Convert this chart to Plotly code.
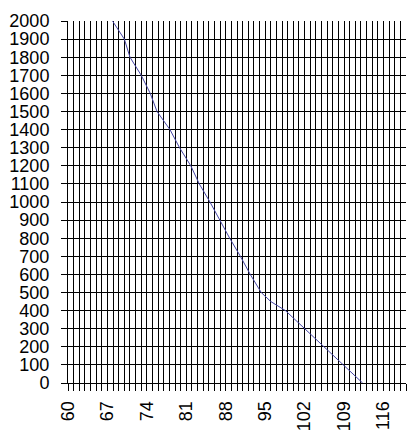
import plotly.graph_objects as go

# Curve readings: load (y) against x position
x_vals = [67.9, 70.0, 71.0, 73.0, 74.6, 75.8, 78.1, 79.8, 81.8, 83.3, 85.2,
          86.9, 88.7, 90.6, 92.35, 94.3, 96.0, 98.6, 102.0, 105.4, 108.8, 112.3]
y_vals = [2000, 1900, 1800, 1700, 1600, 1500, 1400, 1300, 1200, 1100, 1000,
          900, 800, 700, 600, 500, 450, 400, 300, 200, 100, 0]

x_ticks = [60, 67, 74, 81, 88, 95, 102, 109, 116]
y_ticks = list(range(0, 2001, 100))

font = dict(family="Liberation Sans, Arial, sans-serif", size=18, color="black")

fig = go.Figure(
    go.Scatter(
        x=x_vals, y=y_vals, mode="lines",
        line=dict(color="#4646a6", width=1),
        hoverinfo="skip",
    )
)

fig.update_layout(
    width=407, height=432,
    margin=dict(l=68, r=1, t=21, b=45),
    paper_bgcolor="white", plot_bgcolor="white",
    showlegend=False,
    font=font,
)

fig.update_xaxes(
    range=[60, 120],
    tickmode="array", tickvals=x_ticks, ticktext=[str(v) for v in x_ticks],
    tickangle=-90, tickfont=font,
    ticks="outside", ticklen=7, tickcolor="black", tickwidth=1,
    showgrid=True, gridcolor="black", gridwidth=1,
    minor=dict(dtick=1, tick0=60, ticks="outside", ticklen=7,
               tickcolor="black", showgrid=True, gridcolor="black", gridwidth=1),
    showline=True, linecolor="black", linewidth=1,
    zeroline=False, ticklabelstandoff=3,
)

fig.update_yaxes(
    range=[0, 2000],
    tickmode="array", tickvals=y_ticks, ticktext=[str(v) for v in y_ticks],
    tickfont=font,
    ticks="outside", ticklen=6, tickcolor="black", tickwidth=1,
    showgrid=True, gridcolor="black", gridwidth=1,
    showline=True, linecolor="black", linewidth=1,
    zeroline=False, ticklabelstandoff=8,
)

fig.write_html("out.html")
